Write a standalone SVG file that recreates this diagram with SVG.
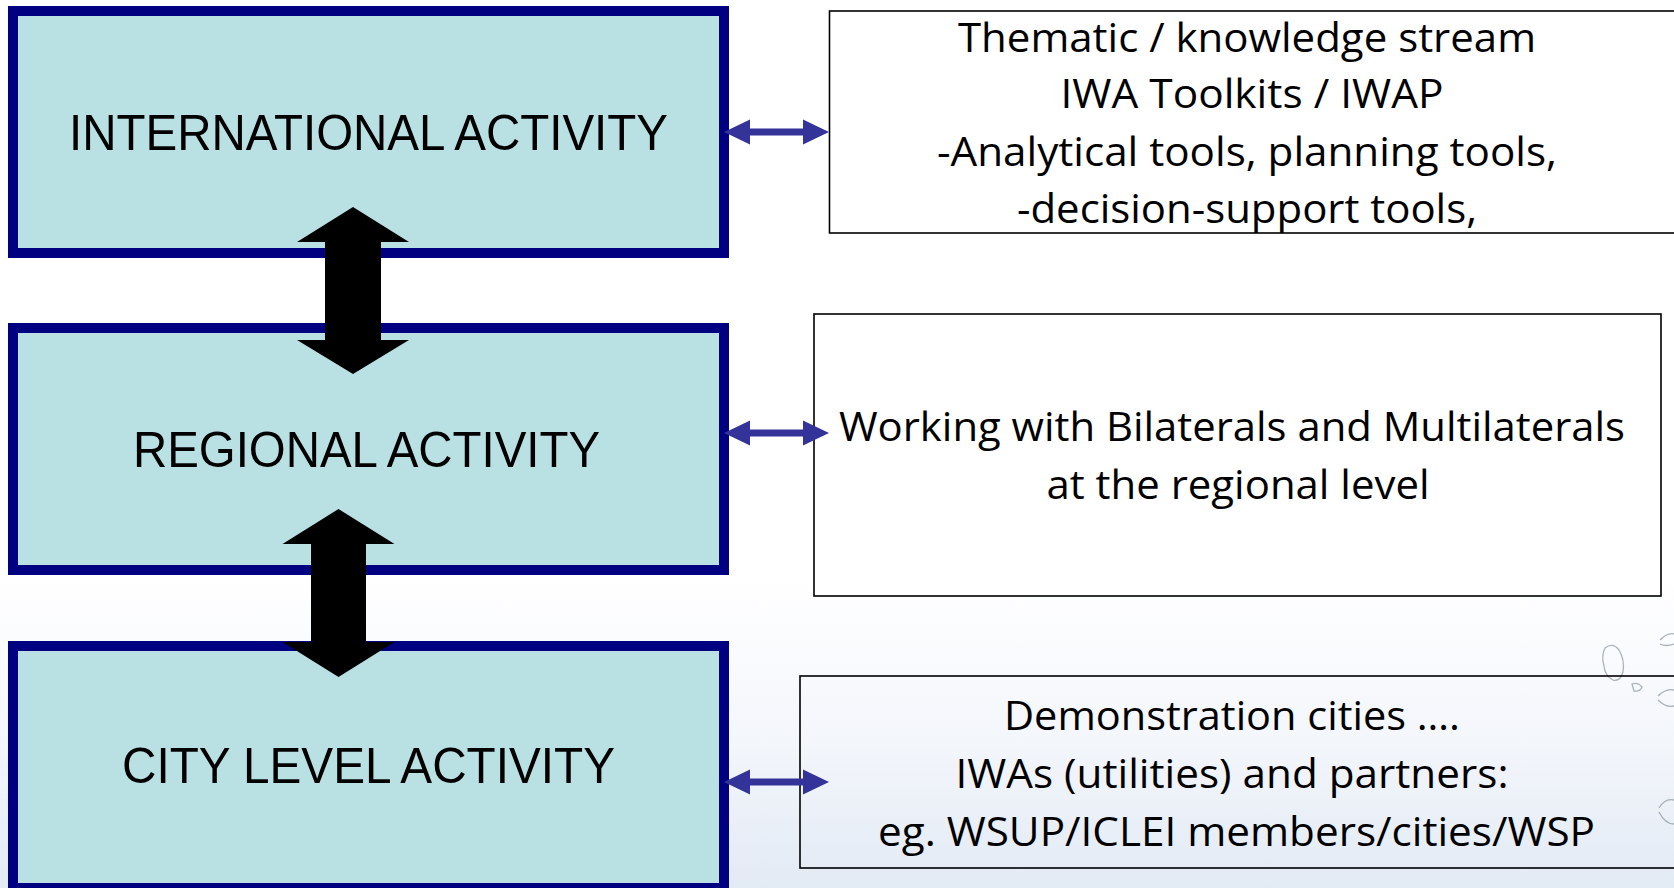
<svg xmlns="http://www.w3.org/2000/svg" width="1674" height="888" viewBox="0 0 1674 888">
<style>
.lvl{fill:#B9E0E3;stroke:#000080;stroke-width:10}
.lvlt{font-family:"Liberation Sans",Arial,sans-serif;font-size:50px;fill:#000;text-anchor:middle}
.info{fill:#fff;stroke:#000;stroke-width:1.6}
.infot{font-family:"Open Sans","Noto Sans",sans-serif;font-size:40px;fill:#000;text-anchor:middle}
.big{fill:#000}
.small{fill:#333399}
.drop{fill:none;stroke:#8a949c;stroke-width:1.3;opacity:0.7}
</style>
<defs>
<linearGradient id="bg" x1="0" y1="0" x2="0" y2="1">
<stop offset="0" stop-color="#ffffff"/>
<stop offset="0.55" stop-color="#f3f6fb"/>
<stop offset="1" stop-color="#e2eaf4"/>
</linearGradient>
</defs>
<rect x="0" y="0" width="1674" height="888" fill="#fff"/>
<rect x="0" y="570" width="1674" height="318" fill="url(#bg)"/>
<g id="decor">
<path class="drop" d="M1605,648 q8,-6 14,2 q6,10 4,22 q-3,10 -10,8 q-8,-4 -9,-14 q-3,-10 1,-18z"/>
<path class="drop" d="M1632,684 q6,-2 10,3 q-2,5 -8,4z"/>
<path class="drop" d="M1660,640 q8,-8 14,-6 M1660,644 q6,3 14,0"/>
<path class="drop" d="M1658,696 q8,-8 16,-6 M1658,700 q8,8 16,6"/>
<path class="drop" d="M1659,808 q6,-10 15,-8 M1659,812 q6,12 15,12"/>
</g>
<g id="international">
<rect class="lvl" x="13" y="11" width="711" height="242"/>
<text class="lvlt" x="368.5" y="150" textLength="599" lengthAdjust="spacingAndGlyphs">INTERNATIONAL ACTIVITY</text>
</g>
<g id="regional">
<rect class="lvl" x="13" y="328" width="711" height="242"/>
<text class="lvlt" x="366.5" y="467" textLength="467" lengthAdjust="spacingAndGlyphs">REGIONAL ACTIVITY</text>
</g>
<g id="city">
<rect class="lvl" x="13" y="646" width="711" height="242"/>
<text class="lvlt" x="368.5" y="783" textLength="493" lengthAdjust="spacingAndGlyphs">CITY LEVEL ACTIVITY</text>
</g>
<g id="thematic">
<rect class="info" x="829.5" y="11" width="900" height="222"/>
<text class="infot" x="1247" y="52" textLength="578" lengthAdjust="spacingAndGlyphs">Thematic / knowledge stream</text>
<text class="infot" x="1252" y="108" textLength="383" lengthAdjust="spacingAndGlyphs">IWA Toolkits / IWAP</text>
<text class="infot" x="1247" y="166" textLength="620" lengthAdjust="spacingAndGlyphs">-Analytical tools, planning tools,</text>
<text class="infot" x="1247" y="223" textLength="460" lengthAdjust="spacingAndGlyphs">-decision-support tools,</text>
</g>
<g id="bilaterals">
<rect class="info" x="814" y="314" width="847" height="282"/>
<text class="infot" x="1232" y="441" textLength="786" lengthAdjust="spacingAndGlyphs">Working with Bilaterals and Multilaterals</text>
<text class="infot" x="1238" y="499" textLength="383" lengthAdjust="spacingAndGlyphs">at the regional level</text>
</g>
<g id="demonstration">
<rect class="info" x="800" y="676" width="900" height="192" fill="none" style="fill:none"/>
<text class="infot" x="1232" y="730" textLength="456" lengthAdjust="spacingAndGlyphs">Demonstration cities ….</text>
<text class="infot" x="1232" y="788" textLength="553" lengthAdjust="spacingAndGlyphs">IWAs (utilities) and partners:</text>
<text class="infot" x="1236.5" y="846" textLength="717" lengthAdjust="spacingAndGlyphs">eg. WSUP/ICLEI members/cities/WSP</text>
</g>
<g id="connectors">
<polygon class="big" points="353,207 409,242 381,242 381,340 409,340 353,374 297,340 325,340 325,242 297,242"/>
<polygon class="big" points="338.5,509 394.5,544 366,544 366,642 394.5,642 338.5,677 282.5,642 311,642 311,544 282.5,544"/>
<polygon class="small" points="724,132 750,119.5 750,128.5 803,128.5 803,119.5 829,132 803,144.5 803,135.5 750,135.5 750,144.5"/>
<polygon class="small" points="724,433 750,420.5 750,429.5 803,429.5 803,420.5 829,433 803,445.5 803,436.5 750,436.5 750,445.5"/>
<polygon class="small" points="724,782 750,769.5 750,778.5 803,778.5 803,769.5 829,782 803,794.5 803,785.5 750,785.5 750,794.5"/>
</g>
</svg>
